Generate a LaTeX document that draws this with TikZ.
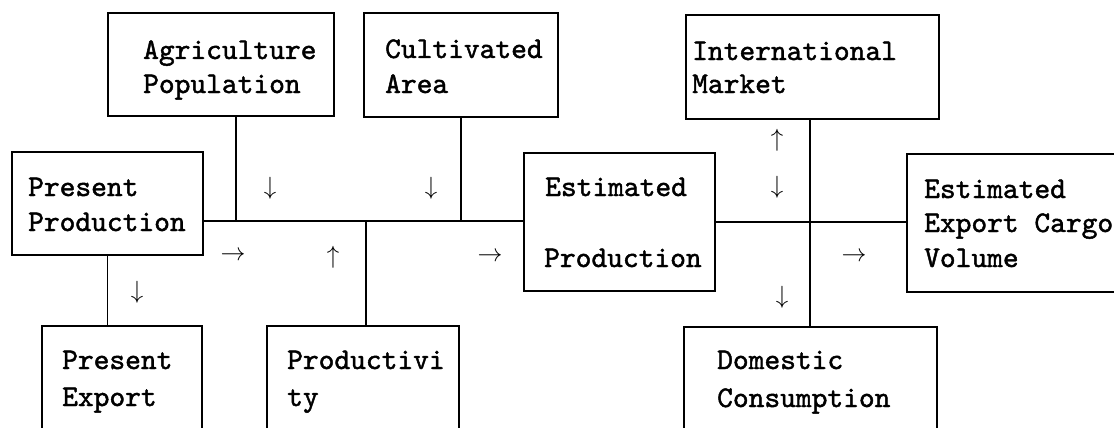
\documentclass[tikz,border=0pt]{standalone}
\usepackage{fontspec}
\newfontfamily\boxfont{lmmono10-regular.otf}[FakeStretch=1.0,FakeBold=1.5]
\begin{document}
\begin{tikzpicture}[x=1pt,y=-1pt,
  box/.style={draw,line width=1.3pt,inner sep=0pt,outer sep=0pt},
  txt/.style={anchor=base west,inner sep=0pt,font={\boxfont\fontsize{30}{35}\selectfont}},
  arw/.style={inner sep=0pt,font={\fontsize{24}{24}\selectfont}},
  conn/.style={line width=1.3pt}]
\useasboundingbox (0,0) rectangle (1114,428);
\clip (0,0) rectangle (1114,428);
% boxes
\node[box,minimum width=226pt,minimum height=103pt] (agr) at (221,64.5) {};
\node[box,minimum width=194pt,minimum height=104pt] (cult) at (461,65) {};
\node[box,minimum width=253pt,minimum height=104pt] (intl) at (812.5,67) {};
\node[box,minimum width=191pt,minimum height=103pt] (pp) at (107.5,203.5) {};
\node[box,minimum width=191pt,minimum height=138pt] (ep) at (619.5,222) {};
\node[box,minimum width=223pt,minimum height=138pt] (eecv) at (1018.5,223) {};
\node[box,minimum width=160pt,minimum height=114pt] (pe) at (122,383) {};
\node[box,minimum width=192pt,minimum height=114pt] (prod) at (363,383) {};
\node[box,minimum width=253pt,minimum height=113pt] (dc) at (810.5,383.5) {};
% texts
\node[txt] (t1) at (143,59) {Agriculture};
\node[txt] (t2) at (143,93) {Population};
\node[txt] (t3) at (385,58) {Cultivated};
\node[txt] (t4) at (385,93) {Area};
\node[txt] (t5) at (692,60) {International};
\node[txt] (t6) at (692,93) {Market};
\node[txt] (t7) at (28,196) {Present};
\node[txt] (t8) at (28,231) {Production};
\node[txt] (t9) at (545,196) {Estimated};
\node[txt] (t10) at (544,267) {Production};
\node[txt] (t11) at (924,198) {Estimated};
\node[txt] (t12) at (924,232) {Export Cargo};
\node[txt] (t13) at (924,267) {Volume};
\node[txt] (t14) at (62,369) {Present};
\node[txt] (t15) at (62,406) {Export};
\node[txt] (t16) at (287,369) {Productivi};
\node[txt] (t17) at (287,406) {ty};
\node[txt] (t18) at (717,369) {Domestic};
\node[txt] (t19) at (717,407) {Consumption};
% junctions
\coordinate (j1) at (236,221);
\coordinate (j2) at (461,221);
\coordinate (j3) at (366,221);
\coordinate (j4) at (810,222);
% connectors
\draw[conn] (pp.east |- j1) -- (ep.west |- j1);
\draw[conn] (agr.south -| j1) -- (j1);
\draw[conn] (cult.south -| j2) -- (j2);
\draw[conn] (j3) -- (prod.north -| j3);
\draw[conn] (pp.south) -- (pp.south |- pe.north);
\draw[conn] (ep.east |- j4) -- (eecv.west |- j4);
\draw[conn] (intl.south -| j4) -- (dc.north -| j4);
% arrow symbols
\node[arw] (a1) at (270,188) {$\downarrow$};
\node[arw] (a2) at (431,188) {$\downarrow$};
\node[arw] (a3) at (233,256) {$\rightarrow$};
\node[arw] (a4) at (333,257) {$\uparrow$};
\node[arw] (a5) at (490,257) {$\rightarrow$};
\node[arw] (a6) at (137,292) {$\downarrow$};
\node[arw] (a7) at (777,140) {$\uparrow$};
\node[arw] (a8) at (777,187) {$\downarrow$};
\node[arw] (a9) at (854,257) {$\rightarrow$};
\node[arw] (a10) at (782,297) {$\downarrow$};
\end{tikzpicture}
\end{document}
